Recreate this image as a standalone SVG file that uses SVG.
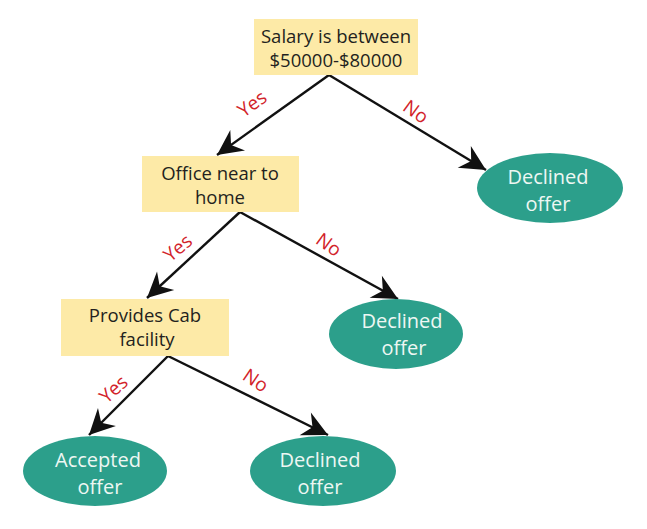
<svg xmlns="http://www.w3.org/2000/svg" width="647" height="529" viewBox="0 0 647 529">
<defs>
<style>
.box{fill:#fdeaa7}
.ell{fill:#2c9f8b}
.bt{font-family:"Open Sans","Liberation Sans",sans-serif;font-size:18.5px;fill:#231f20;text-anchor:middle}
.et{font-family:"Open Sans","Liberation Sans",sans-serif;font-size:20px;fill:#eef7f3;text-anchor:middle}
.lb{font-family:"Open Sans","Liberation Sans",sans-serif;font-size:19px;fill:#d2232a;text-anchor:middle}
.ln{stroke:#111;stroke-width:2.4;fill:none;marker-end:url(#ah)}
</style>
<marker id="ah" markerUnits="userSpaceOnUse" markerWidth="30" markerHeight="30" viewBox="-24 -12 26 24" refX="0" refY="0" orient="auto">
<path d="M0,0 L-22,-11 L-15,0 L-22,11 Z" fill="#111"/>
</marker>
</defs>
<g id="connectors">
<line class="ln" x1="329" y1="75" x2="217" y2="155"/>
<line class="ln" x1="329" y1="75" x2="486" y2="170"/>
<line class="ln" x1="240" y1="212" x2="147" y2="298"/>
<line class="ln" x1="240" y1="212" x2="398" y2="299"/>
<line class="ln" x1="168" y1="356" x2="89" y2="435"/>
<line class="ln" x1="168" y1="356" x2="328" y2="435"/>
<text class="lb" transform="translate(256,109) rotate(-36)">Yes</text>
<text class="lb" transform="translate(412,117) rotate(36)">No</text>
<text class="lb" transform="translate(182,253) rotate(-40)">Yes</text>
<text class="lb" transform="translate(325,250) rotate(36)">No</text>
<text class="lb" transform="translate(118,394) rotate(-42)">Yes</text>
<text class="lb" transform="translate(252,386) rotate(34)">No</text>
</g>
<g id="n1">
<rect class="box" x="254" y="19" width="164" height="56"/>
<text class="bt" x="336" y="43">Salary is between</text>
<text class="bt" x="336" y="67">$50000-$80000</text>
</g>
<g id="n2">
<rect class="box" x="142" y="156" width="157" height="56"/>
<text class="bt" x="220" y="180">Office near to</text>
<text class="bt" x="220" y="204">home</text>
</g>
<g id="n3">
<rect class="box" x="61" y="299" width="168" height="57"/>
<text class="bt" x="145" y="322">Provides Cab</text>
<text class="bt" x="147" y="346">facility</text>
</g>
<g id="n4">
<ellipse class="ell" cx="550" cy="188" rx="73" ry="35"/>
<text class="et" x="548" y="184">Declined</text>
<text class="et" x="548" y="211">offer</text>
</g>
<g id="n5">
<ellipse class="ell" cx="396" cy="334" rx="67" ry="35"/>
<text class="et" x="402" y="328">Declined</text>
<text class="et" x="404" y="355">offer</text>
</g>
<g id="n6">
<ellipse class="ell" cx="95" cy="471" rx="72" ry="35"/>
<text class="et" x="98" y="467">Accepted</text>
<text class="et" x="100" y="494">offer</text>
</g>
<g id="n7">
<ellipse class="ell" cx="323" cy="471" rx="73" ry="35"/>
<text class="et" x="320" y="467">Declined</text>
<text class="et" x="320" y="494">offer</text>
</g>
</svg>
